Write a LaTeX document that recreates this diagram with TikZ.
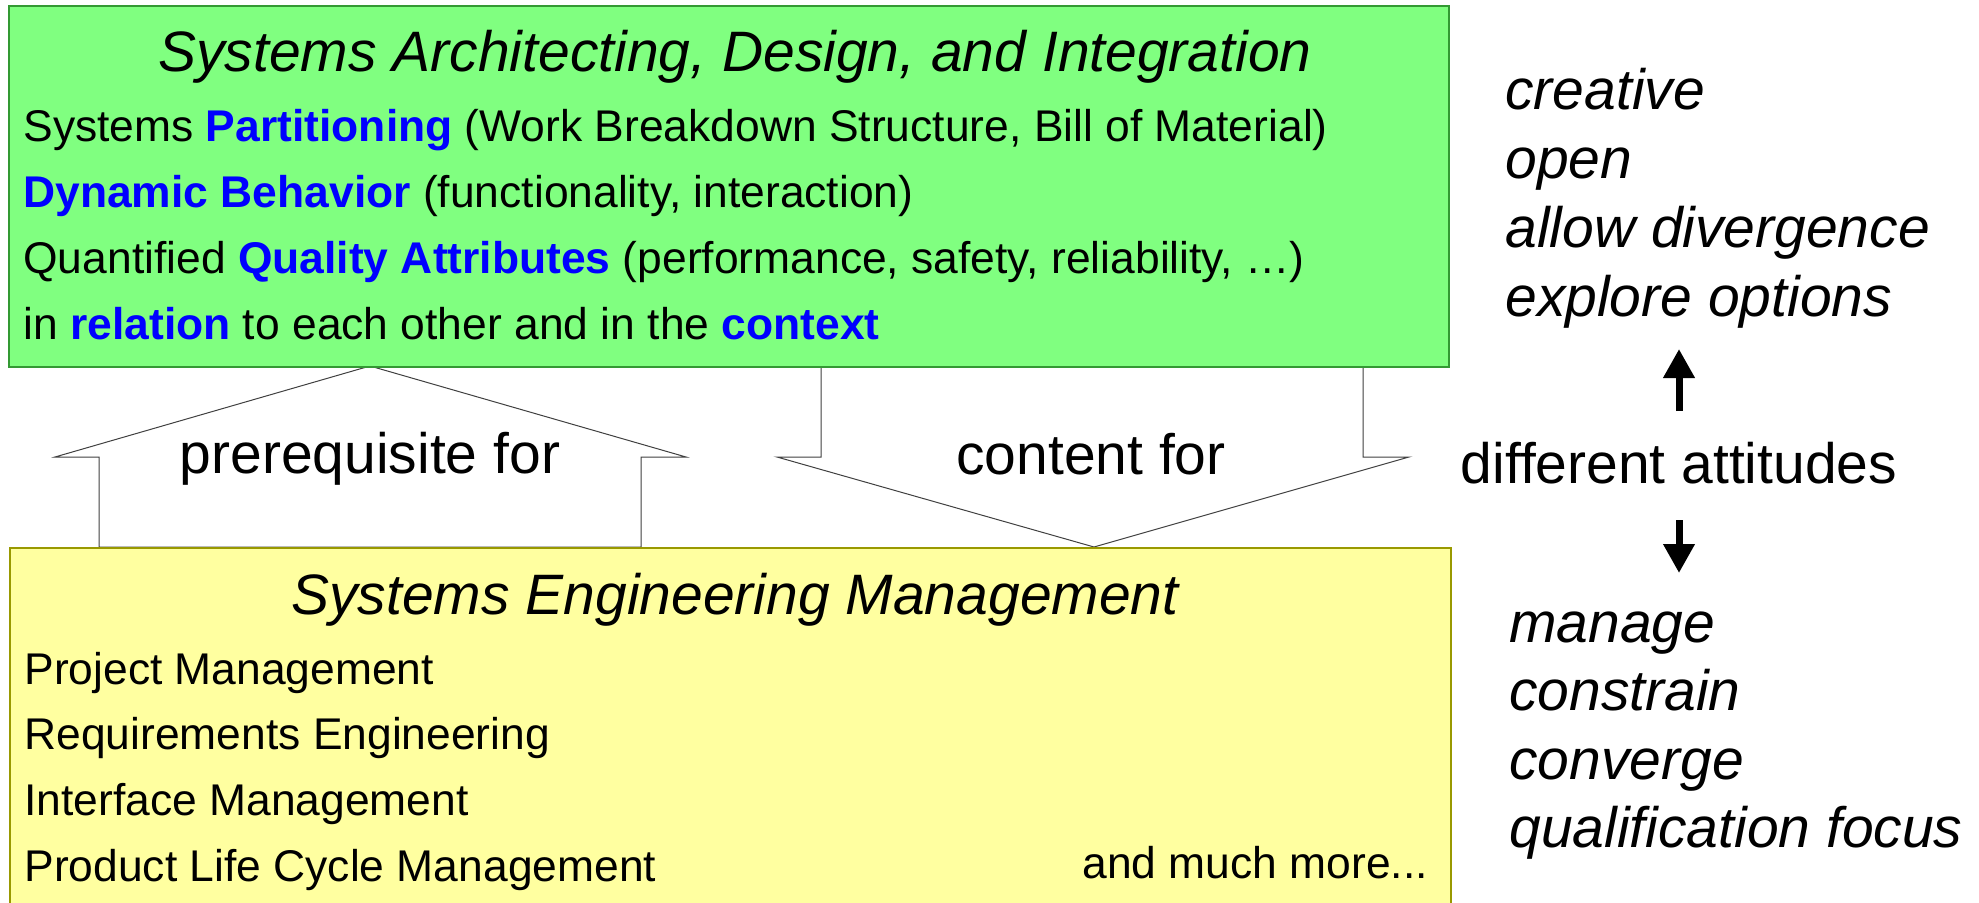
\documentclass[tikz,border=0pt]{standalone}
\usepackage{fontspec}
\setmainfont{Liberation Sans}
\usetikzlibrary{arrows.meta}
\definecolor{boxgreen}{HTML}{80FF80}
\definecolor{boxgreenline}{HTML}{339933}
\definecolor{boxyellow}{HTML}{FFFFA0}
\definecolor{boxyellowline}{HTML}{999900}
\definecolor{keyblue}{HTML}{0000FF}
\tikzset{
  bigtxt/.style={font=\fontsize{28.5}{34}\selectfont, inner sep=0pt},
  bodytxt/.style={font=\fontsize{22.2}{26}\selectfont, inner sep=0pt, anchor=base west},
  listtxt/.style={font=\fontsize{28.5}{34}\selectfont\itshape, inner sep=0pt, anchor=base west},
  greenbox/.style={draw=boxgreenline, fill=boxgreen, line width=1pt},
  yellowbox/.style={draw=boxyellowline, fill=boxyellow, line width=1pt},
  blockarrow/.style={draw=black!75, fill=white, line width=0.5pt, line join=miter},
  attarrow/.style={line width=3.5pt, -{Triangle[width=15pt,length=14.5pt]}},
}
\newcommand{\kw}[1]{\textcolor{keyblue}{\bfseries #1}}
\begin{document}
\begin{tikzpicture}[x=0.5pt,y=-0.5pt]
\useasboundingbox (0,0) rectangle (1979,903);
% block arrows
\draw[blockarrow] (99,547) -- (99,457) -- (55,457) -- (370,366) -- (686,457) -- (641,457) -- (641,547) -- cycle;
\draw[blockarrow] (821,366) -- (821,457) -- (777,457) -- (1094,547) -- (1409,457) -- (1363,457) -- (1363,366) -- cycle;
% boxes
\node[greenbox, anchor=north west, minimum width=720pt, minimum height=180.5pt, inner sep=0pt] (sad) at (8,5) {};
\node[yellowbox, anchor=north west, minimum width=720.5pt, minimum height=182pt, inner sep=0pt] (sem) at (9,547) {};
% green box text
\node[bigtxt, anchor=base] (sadtitle) at (735,72) {\itshape Systems Architecting, Design, and Integration};
\node[bodytxt] (sad1) at (23,142) {Systems \kw{Partitioning} (Work Breakdown Structure, Bill of Material)};
\node[bodytxt] (sad2) at (23,208) {\kw{Dynamic Behavior} (functionality, interaction)};
\node[bodytxt] (sad3) at (23,274) {Quantified \kw{Quality Attributes} (performance, safety, reliability, …)};
\node[bodytxt] (sad4) at (23,340) {in \kw{relation} to each other and in the \kw{context}};
% yellow box text
\node[bigtxt, anchor=base] (semtitle) at (735,614) {\itshape Systems Engineering Management};
\node[bodytxt] (sem1) at (24,684) {Project Management};
\node[bodytxt] (sem2) at (24,749) {Requirements Engineering};
\node[bodytxt] (sem3) at (24,815) {Interface Management};
\node[bodytxt] (sem4) at (24,881) {Product Life Cycle Management};
\node[bodytxt] (sem5) at (1082,878) {and much more...};
% arrow labels
\node[bigtxt, anchor=base] (prereq) at (370,473) {prerequisite for};
\node[bigtxt, anchor=base] (content) at (1091,474) {content for};
% right side
\node[listtxt] (l1) at (1505,110) {creative};
\node[listtxt] (l2) at (1505,179) {open};
\node[listtxt] (l3) at (1505,248) {allow divergence};
\node[listtxt] (l4) at (1505,317) {explore options};
\node[bigtxt, anchor=base] (att) at (1679,483) {different attitudes};
\node[listtxt] (m1) at (1509,642) {manage};
\node[listtxt] (m2) at (1509,710) {constrain};
\node[listtxt] (m3) at (1509,779) {converge};
\node[listtxt] (m4) at (1509,847) {qualification focus};
\coordinate (upS) at (1679,411);
\coordinate (upE) at (1679,349);
\coordinate (dnS) at (1679,520);
\coordinate (dnE) at (1679,573);
\draw[attarrow] (upS) -- (upE);
\draw[attarrow] (dnS) -- (dnE);
\end{tikzpicture}
\end{document}
